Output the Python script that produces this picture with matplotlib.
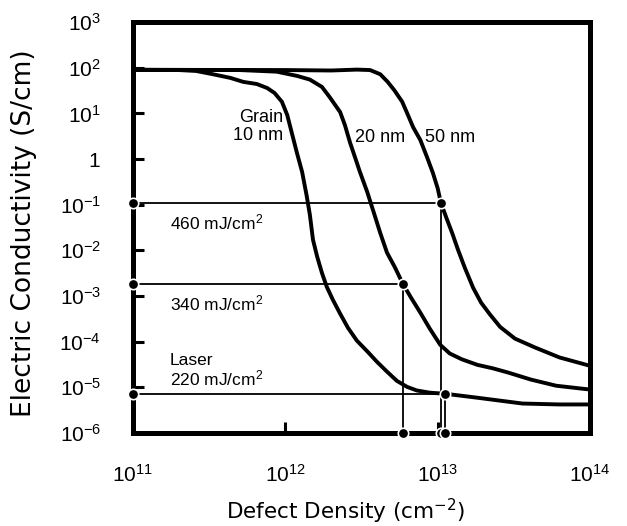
import numpy as np
import matplotlib.pyplot as plt

# conductivity vs defect density
# grain 10 nm
d10 = [1.0e11, 2.0e11, 2.6e11, 3.35e11, 4.35e11, 5.3e11, 6.5e11, 7.6e11, 8.5e11,
       9.5e11, 1.03e12, 1.1e12, 1.19e12, 1.29e12, 1.38e12, 1.45e12, 1.52e12,
       1.62e12, 1.74e12, 1.87e12, 2.05e12, 2.29e12, 2.58e12, 2.95e12, 3.47e12,
       4.0e12, 4.65e12, 5.4e12, 6.3e12, 7.3e12, 8.9e12, 1.12e13, 1.82e13,
       3.6e13, 6.3e13, 1.0e14]
s10 = [90, 89, 85, 72, 60, 49, 44, 36, 28,
       18, 9.2, 3.9, 1.4, 0.52, 0.16, 0.060, 0.017,
       7.2e-3, 3.2e-3, 1.6e-3, 8.3e-4, 4.1e-4, 2.0e-4, 1.05e-4, 6.0e-5,
       3.6e-5, 2.2e-5, 1.38e-5, 1.02e-5, 8.5e-6, 7.6e-6, 7.2e-6, 5.9e-6,
       4.4e-6, 4.2e-6, 4.2e-6]

# grain 20 nm
d20 = [1.0e11, 5.0e11, 8.8e11, 1.2e12, 1.45e12, 1.74e12, 1.95e12, 2.29e12,
       2.46e12, 2.66e12, 2.88e12, 3.09e12, 3.45e12, 3.8e12, 4.2e12, 4.65e12,
       5.25e12, 5.9e12, 6.7e12, 7.7e12, 8.9e12, 1.04e13, 1.2e13, 1.44e13,
       1.82e13, 2.3e13, 2.9e13, 4.1e13, 6.0e13, 1.0e14]
s20 = [90, 89, 82, 66, 55, 38, 23, 10.7,
       5.6, 2.3, 1.05, 0.52, 0.19, 0.069, 0.024, 8.9e-3,
       4.2e-3, 1.86e-3, 9.1e-4, 4.3e-4, 1.9e-4, 8.5e-5, 5.5e-5, 4.1e-5,
       3.1e-5, 2.6e-5, 2.1e-5, 1.47e-5, 1.08e-5, 8.9e-6]

# grain 50 nm
d50 = [1.0e11, 1.0e12, 2.0e12, 2.95e12, 3.6e12, 4.2e12, 4.7e12, 5.2e12, 5.85e12,
       6.3e12, 6.9e12, 7.7e12, 8.5e12, 9.3e12, 1.0e13, 1.05e13, 1.135e13,
       1.245e13, 1.36e13, 1.51e13, 1.71e13, 1.93e13, 2.21e13, 2.57e13, 3.22e13,
       4.37e13, 6.3e13, 1.0e14]
s50 = [90, 89, 87, 91, 89, 72, 49, 32, 18,
       10.2, 5.0, 2.6, 1.12, 0.50, 0.23, 0.11, 0.054,
       0.024, 0.0103, 4.1e-3, 1.51e-3, 7.1e-4, 3.9e-4, 2.1e-4, 1.16e-4,
       7.4e-5, 4.5e-5, 2.95e-5]

# laser energy read-off points (curve crossing)
laser_labels = ["460 mJ/cm$^2$", "340 mJ/cm$^2$", "Laser\n220 mJ/cm$^2$"]
laser_d = [1.05e13, 5.9e12, 1.12e13]
laser_s = [0.11, 1.86e-3, 7.2e-6]

xmin, xmax = 1e11, 1e14
ymin, ymax = 1e-6, 1e3

plt.rcParams['font.family'] = 'Liberation Sans'
plt.rcParams['mathtext.default'] = 'regular'

fig = plt.figure(figsize=(6.27, 5.26), dpi=100)
ax = fig.add_axes([0.212, 0.177, 0.729, 0.781])

ax.set_xscale('log')
ax.set_yscale('log')
ax.set_xlim(xmin, xmax)
ax.set_ylim(ymin, ymax)

# guide lines and dots
for d, s in zip(laser_d, laser_s):
    ax.plot([xmin, d], [s, s], color='black', lw=1.3, zorder=2, clip_on=False)
    ax.plot([d, d], [s, ymin], color='black', lw=1.3, zorder=2, clip_on=False)
    ax.plot([xmin, d, d], [s, s, ymin], ls='none', marker='o', ms=7.5,
            mfc='black', mec='white', mew=1.2, zorder=5, clip_on=False)

for d, s in [(d10, s10), (d20, s20), (d50, s50)]:
    ax.plot(d, s, color='black', lw=2.8, zorder=3, solid_joinstyle='round')

# text labels
ax.text(0.97e12, 12.5, "Grain\n10 nm", ha='right', va='top', fontsize=13, linespacing=1.1)
ax.text(2.87e12, 3.0, "20 nm", ha='left', va='center', fontsize=13)
ax.text(8.26e12, 3.0, "50 nm", ha='left', va='center', fontsize=13)
ax.text(1.75e11, 0.067, laser_labels[0], ha='left', va='top', fontsize=12.5)
ax.text(1.75e11, 1.15e-3, laser_labels[1], ha='left', va='top', fontsize=12.5)
ax.text(1.75e11, 2.3e-5, laser_labels[2], ha='left', va='center', fontsize=12.5,
        linespacing=1.05)

# axes styling
for sp in ax.spines.values():
    sp.set_linewidth(3.6)
ax.set_xticks([1e11, 1e12, 1e13, 1e14])
ax.set_xticklabels(["$10^{11}$", "$10^{12}$", "$10^{13}$", "$10^{14}$"])
yt = [1e-6, 1e-5, 1e-4, 1e-3, 1e-2, 1e-1, 1, 1e1, 1e2, 1e3]
ax.set_yticks(yt)
ax.set_yticklabels(["$10^{-6}$", "$10^{-5}$", "$10^{-4}$", "$10^{-3}$", "$10^{-2}$",
                    "$10^{-1}$", r"$1\,\,\,\,$", "$10^1$", "$10^2$", "$10^3$"])
ax.minorticks_off()
ax.tick_params(axis='both', direction='in', length=8, width=2.2, labelsize=15,
               left=True, bottom=True)
ax.tick_params(axis='x', pad=22)
ax.tick_params(axis='y', pad=23)

ax.set_xlabel("Defect Density (cm$^{-2}$)", family='DejaVu Sans', fontsize=15.5)
ax.set_ylabel("Electric Conductivity (S/cm)", family='DejaVu Sans', fontsize=19)
ax.xaxis.set_label_coords(0.466, -0.156)
ax.yaxis.set_label_coords(-0.21, 0.485)

fig.savefig("out.png", dpi=100)
